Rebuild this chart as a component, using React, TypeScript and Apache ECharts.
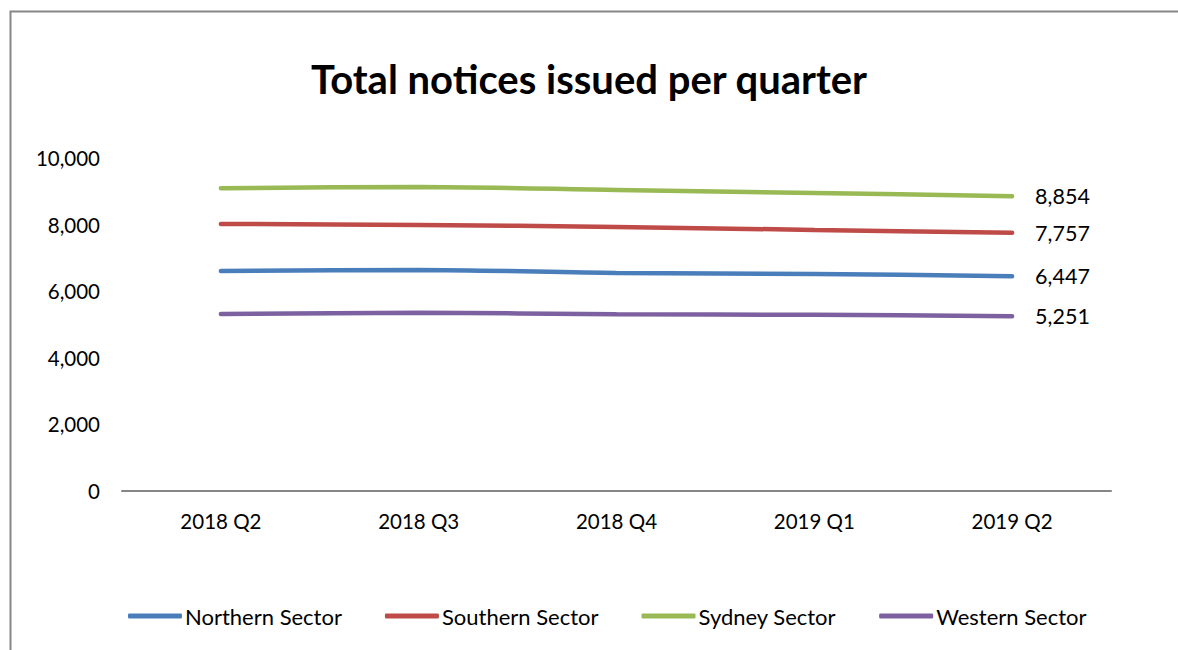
import React, { useEffect, useRef } from "react";
import * as echarts from "echarts";

const categories = ["2018 Q2", "2018 Q3", "2018 Q4", "2019 Q1", "2019 Q2"];
const northern = [6610, 6640, 6550, 6520, 6447];
const southern = [8020, 7990, 7930, 7840, 7757];
const sydney = [9090, 9130, 9040, 8950, 8854];
const western = [5315, 5350, 5310, 5290, 5251];
const yTicks = { min: 0, max: 10000, interval: 2000 };

const FONT = "Lato, 'Open Sans', sans-serif";

export default function App() {
  const ref = useRef<HTMLDivElement>(null);
  useEffect(() => {
    document.body.style.margin = "0";
    const chart = echarts.init(ref.current!, null, { renderer: "svg" });
    const mk = (name: string, data: number[], color: string) => ({
      name,
      type: "line",
      data,
      smooth: 0.3,
      symbol: "none",
      lineStyle: { width: 4.5, color, cap: "round" },
      itemStyle: { color },
      endLabel: {
        show: true,
        color: "#000",
        fontFamily: FONT,
        fontSize: 21.5,
        distance: 23,
        formatter: (p: any) => Number(p.value).toLocaleString("en-US"),
      },
    });
    chart.setOption({
      animation: false,
      backgroundColor: "#fff",
      title: {
        text: "Total notices issued per quarter",
        left: "center",
        top: 54,
        textStyle: { fontFamily: FONT, fontSize: 40, fontWeight: "bold", color: "#000" },
      },
      graphic: [
        {
          type: "rect",
          left: 8,
          top: 9,
          shape: { width: 1300, height: 800 },
          style: { fill: "none", stroke: "#868686", lineWidth: 2 },
          silent: true,
        },
      ],
      grid: { left: 122, right: 67, top: 158, bottom: 159, containLabel: false },
      xAxis: {
        type: "category",
        data: categories,
        boundaryGap: true,
        axisLine: { lineStyle: { color: "#868686", width: 2 } },
        axisTick: { show: false },
        axisLabel: { color: "#000", fontFamily: FONT, fontSize: 20.5, margin: 19 },
      },
      yAxis: {
        type: "value",
        min: yTicks.min,
        max: yTicks.max,
        interval: yTicks.interval,
        axisLine: { show: false },
        axisTick: { show: false },
        splitLine: { show: false },
        axisLabel: {
          color: "#000",
          fontFamily: FONT,
          fontSize: 20.5,
          margin: 22,
          formatter: (v: number) => v.toLocaleString("en-US"),
        },
      },
      legend: {
        bottom: 18,
        left: 123,
        itemWidth: 54,
        itemHeight: 5,
        itemGap: 43,
        icon: "roundRect",
        textStyle: { fontFamily: FONT, fontSize: 22, color: "#000", padding: [0, 0, 0, -2] },
        data: ["Northern Sector", "Southern Sector", "Sydney Sector", "Western Sector"],
      },
      series: [
        mk("Northern Sector", northern, "#4A7EBB"),
        mk("Southern Sector", southern, "#BE4B48"),
        mk("Sydney Sector", sydney, "#98B954"),
        mk("Western Sector", western, "#7D60A0"),
      ],
    });
    return () => chart.dispose();
  }, []);
  return <div ref={ref} style={{ position: "absolute", left: 0, top: 0, width: 1178, height: 650 }} />;
}
